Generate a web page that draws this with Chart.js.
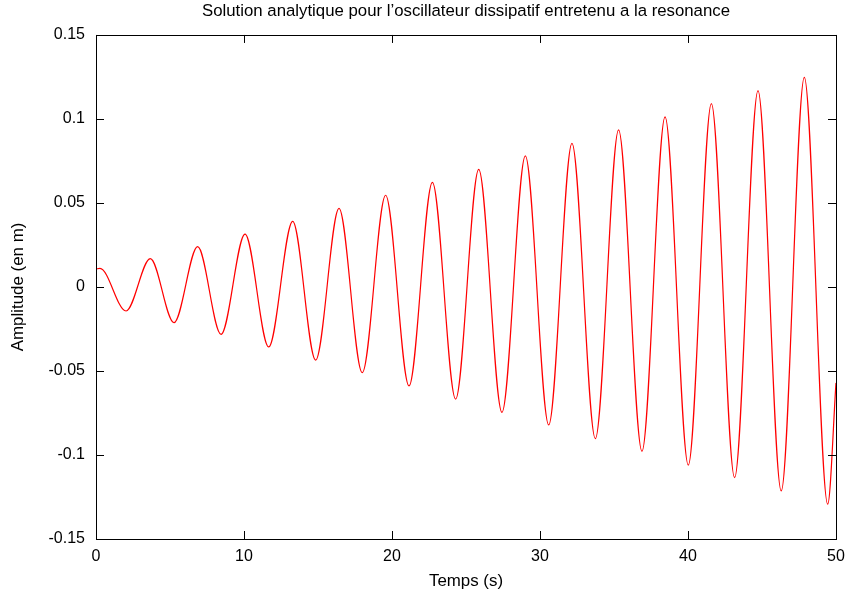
<!DOCTYPE html>
<html>

<head>
    <meta charset="UTF-8">
    <title>Oscillateur dissipatif entretenu</title>
    <script src="https://cdn.jsdelivr.net/npm/chart.js@4.4.0/dist/chart.umd.min.js"></script>
    <style>
        body {
            margin: 0;
            background: #fff;
        }

        .chart-box {
            width: 848px;
            height: 597px;
        }
    </style>
</head>

<body>

    <div class="chart-box">
        <canvas id="oscChart"></canvas>
    </div>

    <script>
        // points: start, every peak and trough, end
        const temps = [0, 0.27, 2.03, 3.67, 5.27, 6.87, 8.45, 10.07, 11.67, 13.29, 14.84, 16.42, 17.99,
            19.57, 21.15, 22.73, 24.30, 25.86, 27.43, 29.01, 30.59, 32.16, 33.74, 35.31, 36.89,
            38.45, 40.02, 41.58, 43.15, 44.73, 46.30, 47.86, 49.44, 50];
        const amplitude = [0.0107, 0.0111, -0.0143, 0.0169, -0.0212, 0.0240, -0.0282, 0.0315, -0.0357,
            0.0391, -0.0435, 0.0468, -0.0510, 0.0546, -0.0589, 0.0623, -0.0667, 0.0700, -0.0746,
            0.0780, -0.0821, 0.0855, -0.0903, 0.0935, -0.0978, 0.1012, -0.1060, 0.1091, -0.1135,
            0.1169, -0.1214, 0.1248, -0.1292, -0.0571];

        const xTicks = [0, 10, 20, 30, 40, 50];
        const yTicks = [-0.15, -0.1, -0.05, 0, 0.05, 0.1, 0.15];
        const yTickLabels = ["-0.15", "-0.1", "-0.05", "0", "0.05", "0.1", "0.15"];

        const FONT = "'Liberation Sans', Arial, Helvetica, sans-serif";

        // gnuplot style frame with inward ticks on all four sides
        const framePlugin = {
            id: "frame",
            afterDatasetsDraw(chart) {
                const ctx = chart.ctx;
                const a = chart.chartArea;
                const sx = chart.scales.x, sy = chart.scales.y;
                const len = 8;
                ctx.save();
                ctx.strokeStyle = "#000";
                ctx.lineWidth = 1;
                ctx.beginPath();
                sx.ticks.forEach(t => {
                    const px = Math.round(sx.getPixelForValue(t.value)) + 0.5;
                    ctx.moveTo(px, a.bottom); ctx.lineTo(px, a.bottom - len);
                    ctx.moveTo(px, a.top); ctx.lineTo(px, a.top + len);
                });
                sy.ticks.forEach(t => {
                    const py = Math.round(sy.getPixelForValue(t.value)) + 0.5;
                    ctx.moveTo(a.left, py); ctx.lineTo(a.left + len, py);
                    ctx.moveTo(a.right, py); ctx.lineTo(a.right - len, py);
                });
                ctx.stroke();
                ctx.strokeRect(Math.round(a.left) + 0.5, Math.round(a.top) + 0.5,
                    Math.round(a.right - a.left), Math.round(a.bottom - a.top));
                ctx.restore();
            }
        };

        new Chart(document.getElementById("oscChart"), {
            type: "line",
            data: {
                datasets: [{
                    data: temps.map((t, i) => ({ x: t, y: amplitude[i] })),
                    borderColor: "#ff0000",
                    borderWidth: 1.2,
                    pointRadius: 0,
                    fill: false,
                    cubicInterpolationMode: "monotone"
                }]
            },
            options: {
                responsive: true,
                maintainAspectRatio: false,
                animation: false,
                devicePixelRatio: 1,
                layout: { padding: { left: 0, right: 12, top: 0, bottom: 0 } },
                plugins: {
                    legend: { display: false },
                    tooltip: { enabled: false },
                    title: {
                        display: true,
                        fullSize: false,
                        text: "Solution analytique pour l\u2019oscillateur dissipatif entretenu a la resonance",
                        color: "#000",
                        font: { family: FONT, size: 16.8, weight: "normal" },
                        padding: { top: 1.4, bottom: 13.4 }
                    }
                },
                scales: {
                    x: {
                        type: "linear",
                        min: 0,
                        max: 50,
                        afterBuildTicks: s => { s.ticks = xTicks.map(v => ({ value: v })); },
                        afterFit: s => { s.height = 58; s.paddingLeft = 0; s.paddingRight = 0; },
                        grid: { display: false, drawTicks: false },
                        border: { display: false },
                        ticks: {
                            color: "#000",
                            padding: 8,
                            maxRotation: 0,
                            font: { family: FONT, size: 16 },
                            callback: v => String(v)
                        },
                        title: {
                            display: true,
                            text: "Temps (s)",
                            color: "#000",
                            font: { family: FONT, size: 16.9 },
                            padding: { top: 0, bottom: 6 }
                        }
                    },
                    y: {
                        min: -0.15,
                        max: 0.15,
                        afterBuildTicks: s => { s.ticks = yTicks.map(v => ({ value: v })); },
                        afterFit: s => { s.width = 96; s.paddingTop = 0; s.paddingBottom = 0; },
                        grid: { display: false, drawTicks: false },
                        border: { display: false },
                        ticks: {
                            color: "#000",
                            padding: 11,
                            font: { family: FONT, size: 16 },
                            callback: (v, i) => yTickLabels[i]
                        },
                        title: {
                            display: true,
                            text: "Amplitude (en m)",
                            color: "#000",
                            font: { family: FONT, size: 16.9 },
                            padding: { top: 8, bottom: 0 }
                        }
                    }
                }
            },
            plugins: [framePlugin]
        });
    </script>

</body>

</html>
